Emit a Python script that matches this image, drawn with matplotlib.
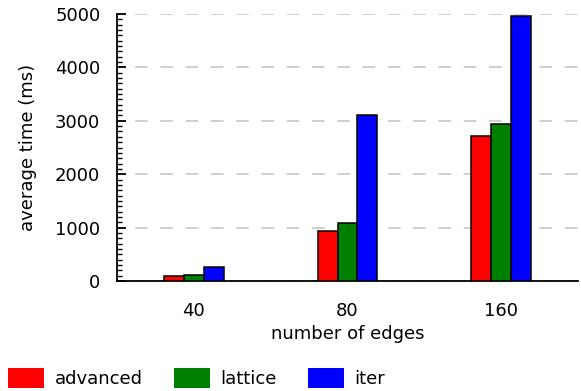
import numpy as np
import matplotlib
matplotlib.use('Agg')
import matplotlib.pyplot as plt
from matplotlib.patches import Patch
from matplotlib.ticker import MultipleLocator

# data
edges = ['40', '80', '160']
advanced = [90, 940, 2710]
lattice = [110, 1090, 2940]
iter_ = [260, 3100, 4970]
series_names = ['advanced', 'lattice', 'iter']
colors = ['#ff0000', '#008000', '#0000ff']

plt.rcParams['font.family'] = 'DejaVu Sans'
plt.rcParams['font.size'] = 13

fig = plt.figure(figsize=(5.81, 3.91), dpi=100)
ax = fig.add_axes([0.2014, 0.2813, 0.7934, 0.6829])

x = np.arange(len(edges))
w = 0.13
for i, (vals, c) in enumerate(zip([advanced, lattice, iter_], colors)):
    ax.bar(x + (i - 1) * w, vals, width=w, color=c, edgecolor='black',
           linewidth=1.1, zorder=3)

ax.set_xlim(-0.5, 2.5)
ax.set_ylim(0, 5000)
ax.set_xticks(x)
ax.set_xticklabels(edges)
ax.yaxis.set_major_locator(MultipleLocator(1000))
ax.yaxis.set_minor_locator(MultipleLocator(100))

ax.spines['top'].set_visible(False)
ax.spines['right'].set_visible(False)
ax.spines['left'].set_linewidth(1.3)
ax.spines['bottom'].set_linewidth(1.3)

ax.tick_params(axis='y', which='major', direction='in', length=6.5, width=1.3, pad=12)
ax.tick_params(axis='y', which='minor', direction='in', length=3.5, width=1)
ax.tick_params(axis='x', length=0, pad=15)

ax.yaxis.grid(True, color='#cccccc', linestyle=(4, (7, 7)), linewidth=1.3, zorder=0)
ax.set_axisbelow(True)

ax.set_ylabel('average time (ms)', labelpad=13)
ax.set_xlabel('number of edges', labelpad=4)

handles = [Patch(facecolor=c, edgecolor='none') for c in colors]
fig.legend(handles, series_names, loc='lower left', bbox_to_anchor=(0.0138, 0.0077),
           ncol=3, frameon=False, borderpad=0, borderaxespad=0,
           handlelength=2.0, handleheight=1.27, handletextpad=0.6,
           columnspacing=1.7)

fig.savefig('out.png', dpi=100)
